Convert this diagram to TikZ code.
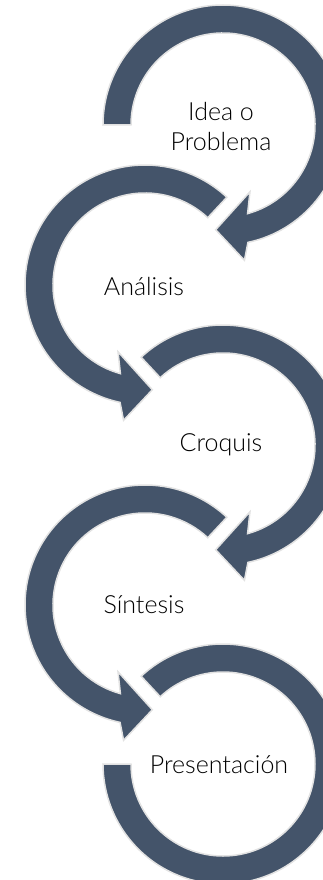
\documentclass[tikz,border=0pt]{standalone}
\usepackage{fontspec}
\setmainfont{Lato}[UprightFont={* Light}]
\usetikzlibrary{positioning}
\definecolor{slate-blue}{RGB}{68, 84, 106}
\definecolor{rim-grey}{RGB}{226, 226, 226}

\begin{document}
\begin{tikzpicture}[x=1pt, y=-1pt,
        ring/.style={fill=slate-blue, draw=rim-grey, line width=1.5pt},
        stagetext/.style={font=\fontsize{25}{30}\selectfont, align=center, text=black}]
                \clip (0, 0) rectangle (323, 880);
                % right rings turn clockwise, left rings counter-clockwise
                \filldraw[ring, shift={(223, 125)}] (180:120) arc[start angle=180, end angle=438, radius=120] -- (441:137) -- (454:105) -- (428:72) -- (434.5:92) arc[start angle=434.5, end angle=180, radius=92] -- cycle;
                \filldraw[ring, shift={(145, 285)}] (-47:120) arc[start angle=-47, end angle=-258, radius=120] -- (-261:137) -- (-274:105) -- (-248:72) -- (-254.5:92) arc[start angle=-254.5, end angle=-47, radius=92] -- cycle;
                \filldraw[ring, shift={(223, 445)}] (227:120) arc[start angle=227, end angle=438, radius=120] -- (441:137) -- (454:105) -- (428:72) -- (434.5:92) arc[start angle=434.5, end angle=227, radius=92] -- cycle;
                \filldraw[ring, shift={(145, 605)}] (-47:120) arc[start angle=-47, end angle=-258, radius=120] -- (-261:137) -- (-274:105) -- (-248:72) -- (-254.5:92) arc[start angle=-254.5, end angle=-47, radius=92] -- cycle;
                \filldraw[ring, shift={(223, 764)}] (227:120) arc[start angle=227, end angle=540, radius=120] -- (540:92) arc[start angle=540, end angle=227, radius=92] -- cycle;
                \node[stagetext] (idea) at (221, 127) {Idea o\\Problema};
                \node[stagetext] (analisis) at (144, 287) {Análisis};
                \node[stagetext] (croquis) at (221, 445) {Croquis};
                \node[stagetext] (sintesis) at (144, 605) {Síntesis};
                \node[stagetext] (presentacion) at (219, 765) {Presentación};
            \end{tikzpicture}
\end{document}
